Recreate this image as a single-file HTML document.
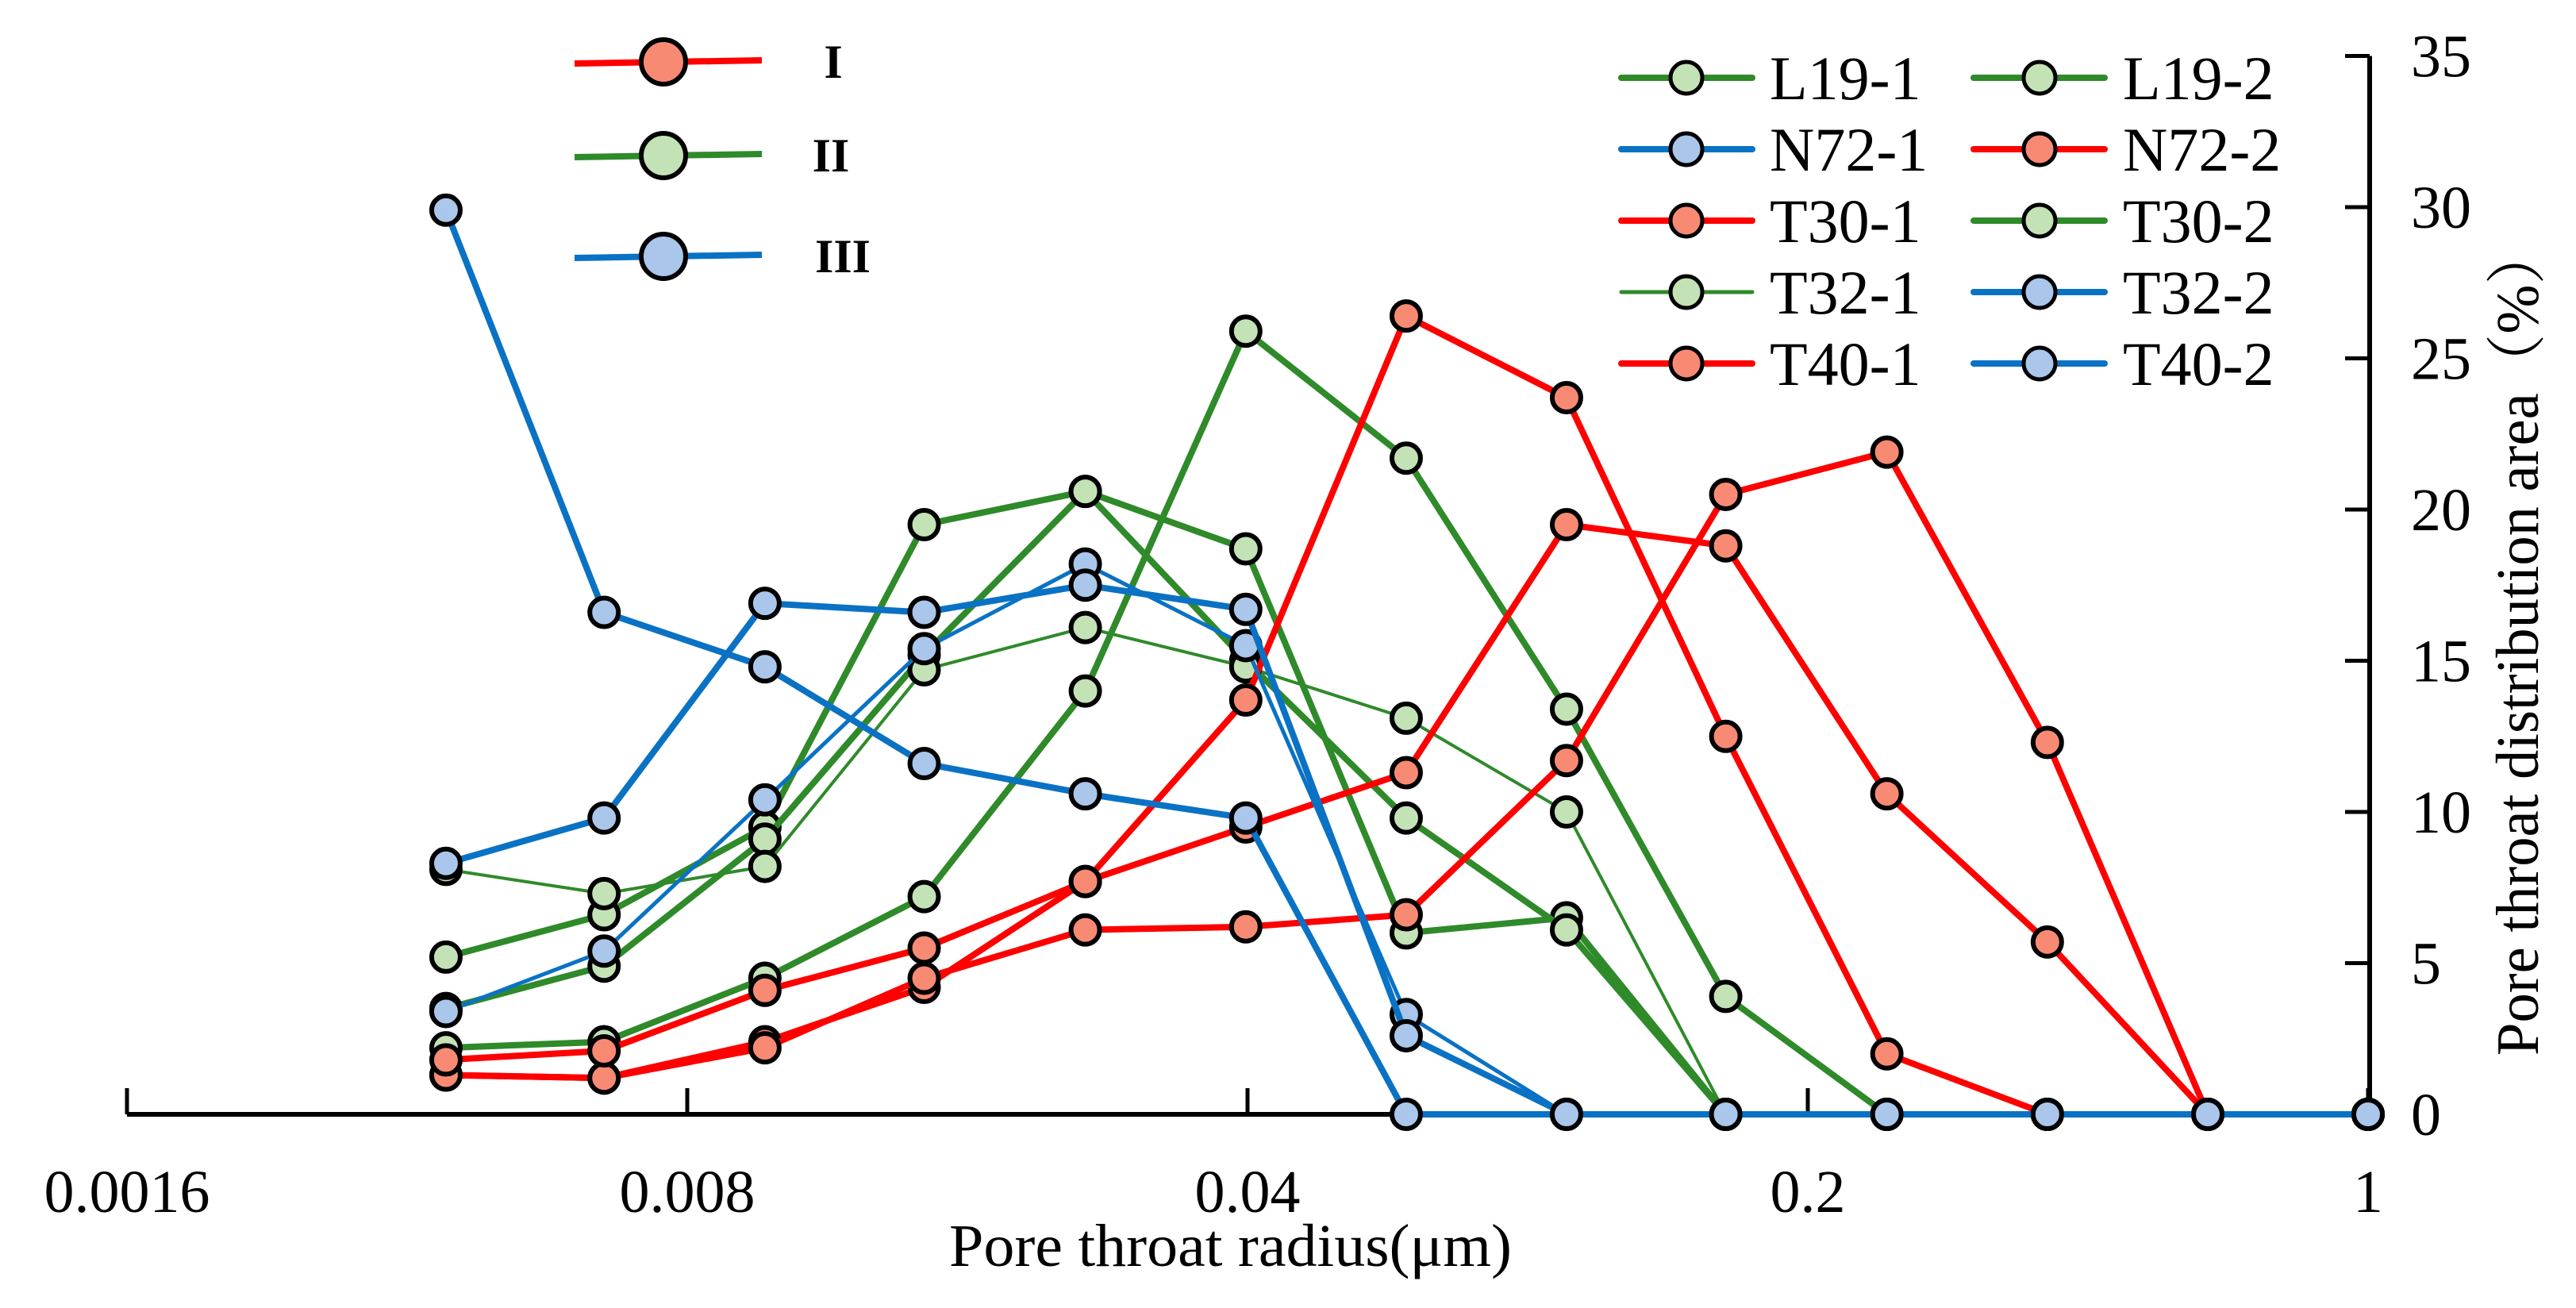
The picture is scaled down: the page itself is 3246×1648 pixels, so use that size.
<!DOCTYPE html>
<html><head><meta charset="utf-8"><style>
html,body{margin:0;padding:0;background:#fff;}
svg{display:block;}
text{font-family:"Liberation Serif","Noto Serif CJK SC",serif;fill:#000;}
</style></head><body>
<svg id="chart" xmlns="http://www.w3.org/2000/svg" width="3246" height="1648" viewBox="0 0 3246 1648">
<rect width="3246" height="1648" fill="#fff"/>
<g id="axes"></g>
<g id="series"></g>
<g id="legend"></g>
</svg>
<script>
const radii = [0.004,0.0063,0.01,0.0158,0.0251,0.0398,0.0631,0.1,0.158,0.251,0.398,0.631,1];
const xTicks = [0.0016,0.008,0.04,0.2,1];
const xTickLabels = ["0.0016","0.008","0.04","0.2","1"];
const yTicks = [0,5,10,15,20,25,30,35];
const seriesNames = ["L19-1","L19-2","T30-2","T32-1","N72-2","T30-1","T40-1","N72-1","T32-2","T40-2"];
const seriesType = ["II","II","II","II","I","I","I","III","III","III"];
const legendOrder = ["L19-1","L19-2","N72-1","N72-2","T30-1","T30-2","T32-1","T32-2","T40-1","T40-2"];
const L19_1 = [2.2,2.4,4.5,7.2,14.0,25.9,21.7,13.4,3.9,0,0,0,0];
const L19_2 = [5.2,6.6,9.5,19.5,20.6,18.7,6.0,6.5,0,0,0,0,0];
const T30_2 = [3.5,4.9,9.1,15.2,20.6,15.0,9.8,6.1,0,0,0,0,0];
const T32_1 = [8.1,7.3,8.2,14.7,16.1,14.8,13.1,10.0,0,0,0,0,0];
const N72_2 = [1.3,1.2,2.4,4.2,7.7,13.7,26.4,23.7,12.5,2.0,0,0,0];
const T30_1 = [1.3,1.2,2.2,4.5,6.1,6.2,6.6,11.7,20.5,21.9,12.3,0,0];
const T40_1 = [1.8,2.1,4.1,5.5,7.7,9.5,11.3,19.5,18.8,10.6,5.7,0,0];
const N72_1 = [29.9,16.6,14.8,11.6,10.6,9.8,0,0,0,0,0,0,0];
const T32_2 = [3.4,5.4,10.4,15.4,18.2,15.5,3.3,0,0,0,0,0,0];
const T40_2 = [8.3,9.8,16.9,16.6,17.5,16.7,2.6,0,0,0,0,0,0];
const seriesValues = [L19_1,L19_2,T30_2,T32_1,N72_2,T30_1,T40_1,N72_1,T32_2,T40_2];

const NS="http://www.w3.org/2000/svg";
const X0=160, DEC=706, Y0=1404, PXU=38.1, XR=2986;
function xs(v){return X0+DEC*Math.log(v/0.0016)/Math.log(5);}
function ys(v){return Y0-v*PXU;}
function mk(tag,attrs,parent){const e=document.createElementNS(NS,tag);for(const k in attrs)e.setAttribute(k,attrs[k]);parent.appendChild(e);return e;}
const styles={I:{line:"#ff0000",fill:"#f88a74"},II:{line:"#2f8a2a",fill:"#c3e3b6"},III:{line:"#0a72c4",fill:"#aac6ea"}};
const thin={"T32-1":4,"T32-2":5};

const axes=document.getElementById('axes');
let e=mk('line',{x1:X0,y1:Y0,x2:XR,y2:Y0,stroke:"#000","stroke-width":6},axes);

e=mk('line',{x1:XR,y1:Y0,x2:XR,y2:ys(35),stroke:"#000","stroke-width":6},axes);

xTicks.forEach((t,i)=>{
  const x=xs(t);
  let tk=mk('line',{x1:x,y1:Y0,x2:x,y2:Y0-33,stroke:"#000","stroke-width":5},axes);
  
  let tx=mk('text',{x:x,y:1527,"font-size":76,"text-anchor":"middle"},axes);
  tx.textContent=xTickLabels[i];
  
});
yTicks.forEach(t=>{
  const y=ys(t);
  let tk=mk('line',{x1:XR,y1:y,x2:XR-31,y2:y,stroke:"#000","stroke-width":5},axes);
  
  let tx=mk('text',{x:3038,y:y+26,"font-size":76},axes);
  tx.textContent=String(t);
  
});
let xt=mk('text',{x:1196,y:1595,"font-size":76,textLength:709,lengthAdjust:"spacingAndGlyphs"},axes);
xt.textContent="Pore throat radius(μm)";

let yt=mk('text',{x:0,y:0,"font-size":76,"text-anchor":"middle",textLength:1046,lengthAdjust:"spacingAndGlyphs",transform:"translate(3198,807) rotate(-90)"},axes);
yt.textContent="Pore throat distribution area（%）";


const sg=document.getElementById('series');
seriesNames.forEach((nm,si)=>{
  const st=styles[seriesType[si]], vals=seriesValues[si];
  const g=mk('g',{},sg);
  
  
  const pts=vals.map((v,i)=>xs(radii[i]).toFixed(1)+","+ys(v).toFixed(1)).join(" ");
  const pl=mk('polyline',{points:pts,fill:"none",stroke:st.line,"stroke-width":thin[nm]||8,"stroke-linejoin":"round"},g);
  
  vals.forEach((v,i)=>{
    const c=mk('circle',{cx:xs(radii[i]),cy:ys(v),r:18,fill:st.fill,stroke:"#000","stroke-width":6},g);
    
  });
});

const lg=document.getElementById('legend');
const typeLegend=[["I",78,1050],["II",196,1047],["III",323,1062]];
typeLegend.forEach(([lab,y,tx])=>{
  const st=styles[lab];
  const g=mk('g',{},lg);
  
  mk('line',{x1:724,y1:y+2,x2:960,y2:y-2,stroke:st.line,"stroke-width":8},g);
  mk('circle',{cx:836,cy:y,r:28,fill:st.fill,stroke:"#000","stroke-width":6},g);
  const t=mk('text',{x:tx,y:y+20,"font-size":60,"font-weight":"bold","text-anchor":"middle"},g);
  t.textContent=lab;
});
const legRows=[98,188,278,368,458];
legendOrder.forEach((nm,i)=>{
  const si=seriesNames.indexOf(nm);
  const col=i%2,row=Math.floor(i/2),y=legRows[row];
  const lx=col?2487:2043, mx=col?2570:2125, tx=col?2675:2230;
  const st=styles[seriesType[si]];
  const g=mk('g',{},lg);
  
  mk('line',{x1:lx,y1:y,x2:lx+165,y2:y,stroke:st.line,"stroke-width":nm==="T32-1"?5:8,"stroke-linecap":"round"},g);
  mk('circle',{cx:mx,cy:y,r:20,fill:st.fill,stroke:"#000","stroke-width":5},g);
  const t=mk('text',{x:tx,y:y+27,"font-size":78},g);
  t.textContent=nm;
});
</script>
</body></html>
